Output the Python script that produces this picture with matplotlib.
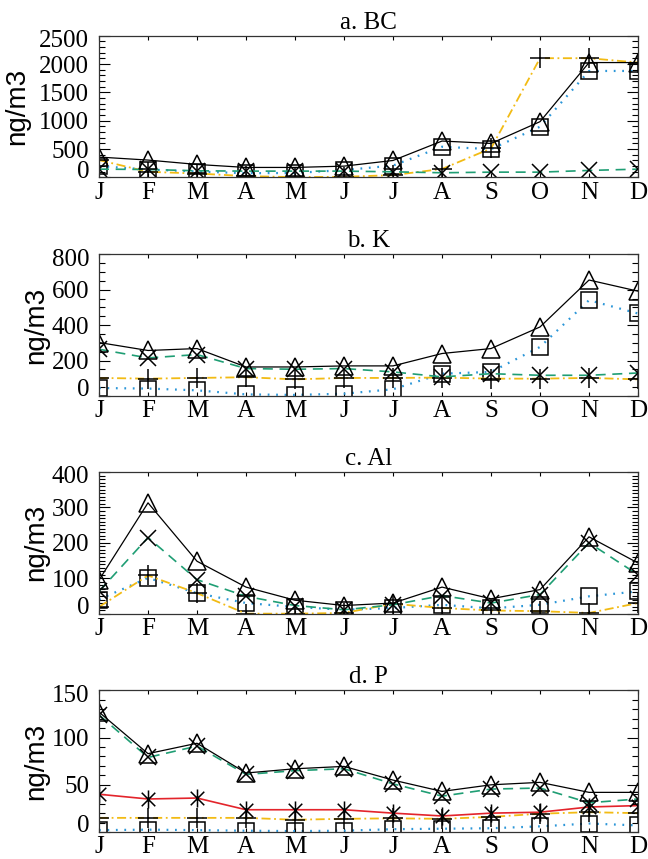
import numpy as np
import matplotlib.pyplot as plt
from matplotlib.path import Path
from matplotlib.transforms import ScaledTranslation

plt.rcParams['font.family'] = ['Liberation Serif', 'DejaVu Serif']
plt.rcParams['font.size'] = 18

# monthly means
months = ['J', 'F', 'M', 'A', 'M', 'J', 'J', 'A', 'S', 'O', 'N', 'D']

# a. BC
bc_tri = [360, 307, 230, 177, 177, 200, 300, 643, 601, 985, 2028, 2028]
bc_sq = [200, 140, 105, 75, 80, 130, 210, 542, 500, 896, 1880, 1880]
bc_x = [147, 141, 118, 112, 112, 112, 100, 83, 94, 94, 124, 147]
bc_plus = [307, 100, 70, 24, 6, 12, 41, 150, 513, 2105, 2105, 2028]

# b. K
k_tri = [302, 257, 268, 164, 164, 170, 170, 240, 268, 390, 655, 592]
k_sq = [45, 42, 32, 9, 6, 13, 38, 126, 136, 277, 541, 466]
k_x = [264, 215, 234, 155, 151, 155, 136, 108, 126, 117, 117, 130]
k_plus = [102, 98, 102, 106, 94, 102, 102, 104, 98, 98, 102, 94]

# c. Al
al_tri = [95, 313, 148, 75, 38, 23, 30, 75, 42, 68, 217, 143]
al_sq = [40, 101, 58, 30, 19, 11, 16, 25, 15, 25, 49, 63]
al_x = [63, 215, 96, 49, 23, 11, 25, 51, 30, 54, 200, 110]
al_plus = [19, 108, 58, 0, 0, 2, 28, 16, 9, 7, 2, 30]

# d. P
p_tri = [127, 83, 94, 62.5, 67, 69.5, 55, 43, 50, 52.6, 42, 42]
p_sq = [2, 2.5, 2, 1.4, 1, 1.4, 3, 3.5, 4, 6, 9, 7]
p_x = [124, 79, 91, 61, 65, 67, 51, 38, 45.5, 46.6, 31, 35]
p_plus = [15, 15, 15, 15, 13, 14, 14.5, 14, 16, 19.4, 21, 20]
p_star = [40, 35, 36, 23.6, 23.6, 23.6, 20, 17, 20, 21, 26.5, 28]

titles = ['a. BC', 'b. K', 'c. Al', 'd. P']
ymax = [2500, 800, 400, 150]
ystep = [500, 200, 100, 50]
yminor = [100, 50, 10, 10]

green = '#1f9e74'
blue = '#2b96d8'
yellow = '#f2bb14'
red = '#e3242b'

# IDL-style asterisk
star = Path([(0, -1), (0, 1), (-0.75, -0.75), (0.75, 0.75), (-0.75, 0.75), (0.75, -0.75)],
            [Path.MOVETO, Path.LINETO] * 3)

fig = plt.figure(figsize=(6.48, 8.59), dpi=100)

bottoms = [0.7934, 0.5390, 0.2856, 0.0314]
label_x = [-0.127, -0.093, -0.093, -0.093]
x = np.arange(12)
data = [(bc_tri, bc_sq, bc_x, bc_plus, None),
        (k_tri, k_sq, k_x, k_plus, None),
        (al_tri, al_sq, al_x, al_plus, None),
        (p_tri, p_sq, p_x, p_plus, p_star)]

mk = dict(mfc='none', mec='k', mew=1.1)

for i in range(4):
    ax = fig.add_axes([0.1528, bottoms[i], 0.8318, 0.1649])
    tri, sq, xx, pl, st = data[i]

    ax.plot(x, sq, color=blue, lw=1.6, ls=(0, (0.8, 3)), marker='s', ms=12, **mk)
    ax.plot(x, pl, color=yellow, lw=1.3, ls=(0, (5, 2, 1, 2)), marker='+', ms=14, **mk)
    if st is not None:
        ax.plot(x, st, color=red, lw=1.2, marker=star, ms=13, **mk)
    ax.plot(x, xx, color=green, lw=1.2, ls=(0, (6, 4)), marker='x', ms=12, **mk)
    ax.plot(x, tri, color='k', lw=0.9, marker='^', ms=13, **mk)

    ax.set_xlim(0, 11)
    ax.set_ylim(0, ymax[i])
    ax.set_xticks(x, months)
    yt = np.arange(0, ymax[i] + 1, ystep[i])
    ax.set_yticks(yt, [str(v) for v in yt])
    ax.set_yticks(np.arange(0, ymax[i] + 1, yminor[i]), minor=True)
    ax.tick_params(axis='y', which='major', direction='in', length=8, width=0.8,
                   left=True, right=True, pad=7, labelsize=18)
    ax.tick_params(axis='y', which='minor', direction='in', length=4, width=0.8,
                   left=True, right=True)
    ax.tick_params(axis='x', which='major', direction='in', length=3, width=0.8,
                   top=True, bottom=True, pad=3, labelsize=18)
    # IDL keeps end labels inside the box
    ticks = ax.yaxis.get_major_ticks()
    lab0 = ticks[0].label1
    lab0.set_transform(lab0.get_transform() + ScaledTranslation(0, 6 / 72, fig.dpi_scale_trans))
    labn = ticks[-1].label1
    labn.set_transform(labn.get_transform() + ScaledTranslation(0, -2 / 72, fig.dpi_scale_trans))

    for s in ax.spines.values():
        s.set_linewidth(0.9)
        s.set_color('#333333')

    ax.set_title(titles[i], fontsize=18, pad=5)
    ax.set_ylabel('ng/m3', family='Liberation Sans', fontsize=20)
    ax.yaxis.set_label_coords(label_x[i], 0.5)

fig.savefig('out.png', dpi=100)
